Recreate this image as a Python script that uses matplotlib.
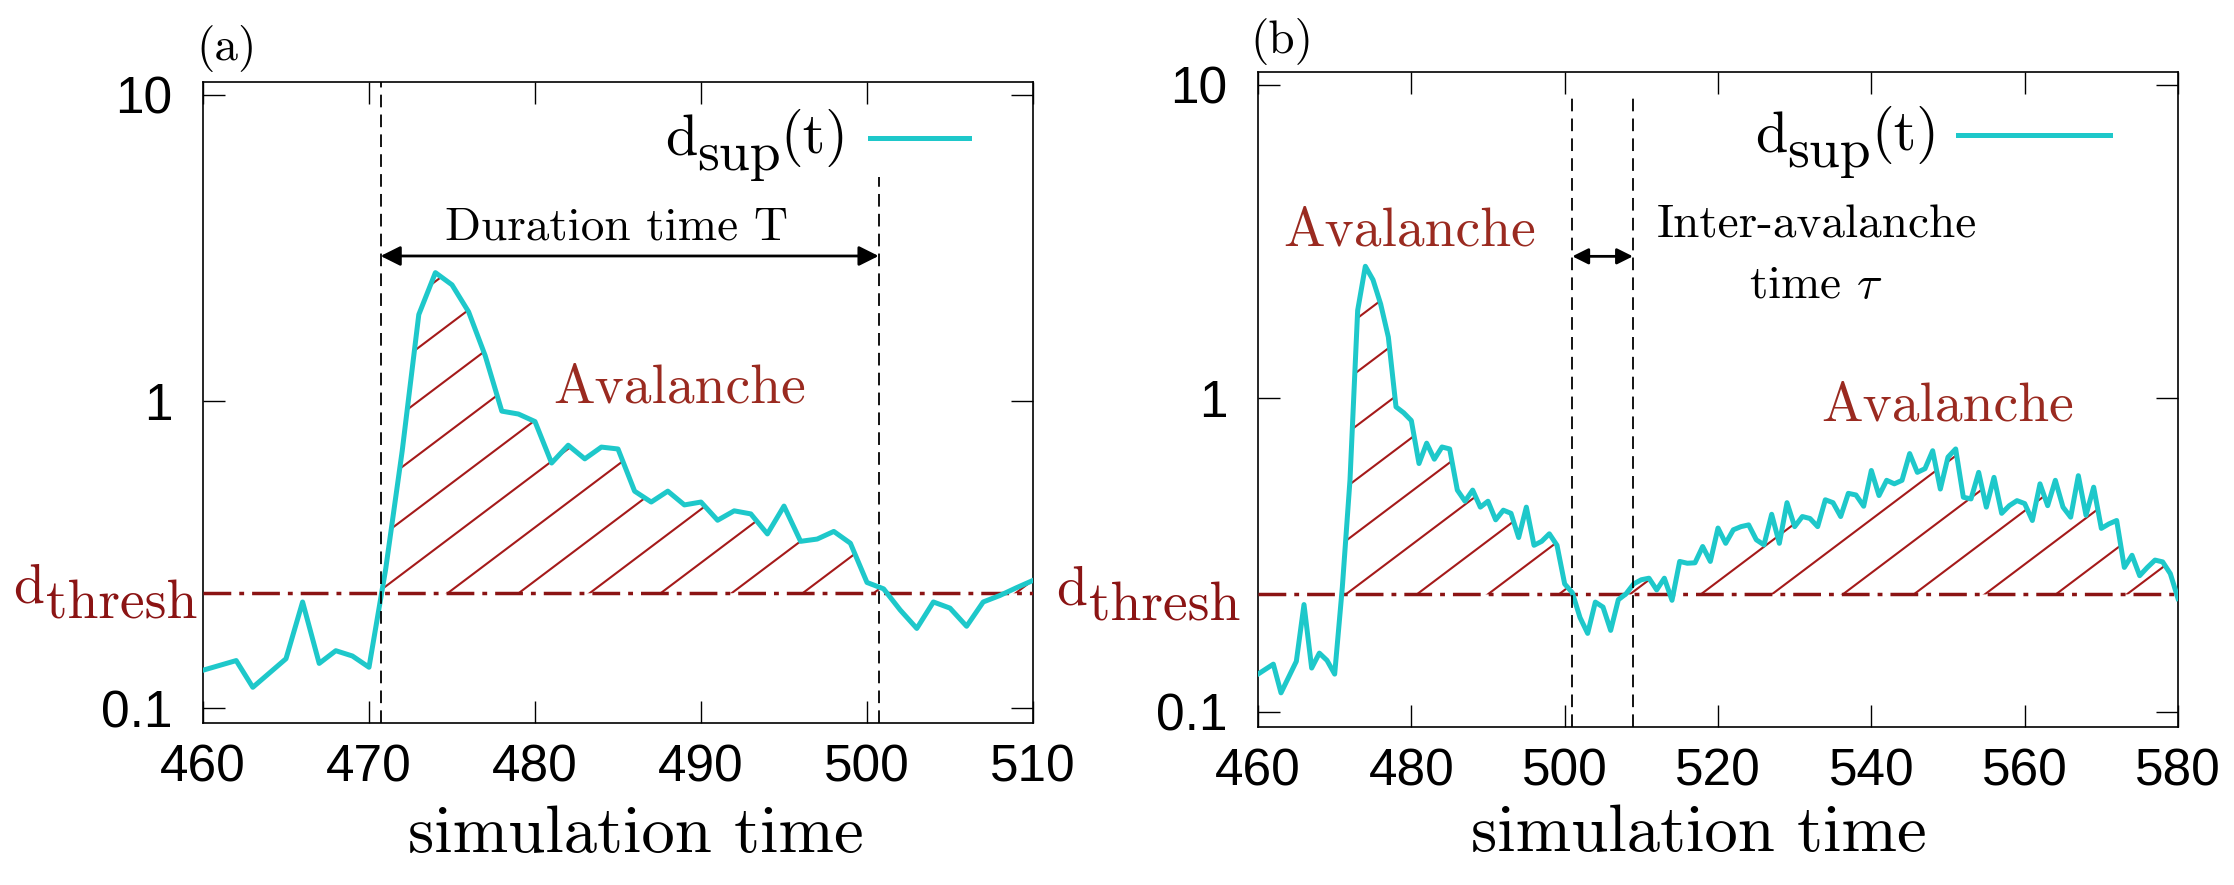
import numpy as np
import matplotlib
matplotlib.use('Agg')
import matplotlib.pyplot as plt
from matplotlib.path import Path
from matplotlib.patches import PathPatch
from matplotlib.collections import LineCollection
from matplotlib.ticker import NullLocator

plt.rcParams['font.family'] = ['Liberation Sans', 'DejaVu Sans']
plt.rcParams['mathtext.fontset'] = 'cm'

# panel (a): d_sup(t)
t_a = [460, 462, 463, 465, 466, 467, 468, 469, 470, 471, 472, 473, 474, 475, 476,
       477, 478, 479, 480, 481, 482, 483, 484, 485, 486, 487, 488, 489, 490, 491,
       492, 493, 494, 495, 496, 497, 498, 499, 500, 501, 502, 503, 504, 505, 506,
       507, 508, 509, 510]
d_a = [0.133, 0.143, 0.117, 0.145, 0.222, 0.140, 0.154, 0.148, 0.136, 0.283, 0.69,
       1.92, 2.63, 2.40, 1.96, 1.41, 0.93, 0.91, 0.86, 0.63, 0.72, 0.65, 0.71, 0.70,
       0.51, 0.47, 0.51, 0.46, 0.47, 0.41, 0.44, 0.43, 0.37, 0.456, 0.35, 0.356,
       0.377, 0.345, 0.257, 0.245, 0.209, 0.182, 0.222, 0.212, 0.185, 0.222, 0.233,
       0.247, 0.261]

# panel (b)
t_b = [460, 462, 463, 465, 466, 467, 468, 469, 470, 471, 472, 473, 474, 475, 476,
       477, 478, 479, 480, 481, 482, 483, 484, 485, 486, 487, 488, 489, 490, 491,
       492, 493, 494, 495, 496, 497, 498, 499, 500, 501, 502, 503, 504, 505, 506,
       507, 508, 509, 510, 511, 512, 513, 514, 515, 516, 517, 518, 519, 520, 521,
       522, 523, 524, 525, 526, 527, 528, 529, 530, 531, 532, 533, 534, 535, 536,
       537, 538, 539, 540, 541, 542, 543, 544, 545, 546, 547, 548, 549, 550, 551,
       552, 553, 554, 555, 556, 557, 558, 559, 560, 561, 562, 563, 564, 565, 566,
       567, 568, 569, 570, 571, 572, 573, 574, 575, 576, 577, 578, 579, 580]
d_b = [0.132, 0.142, 0.115, 0.145, 0.22, 0.138, 0.154, 0.146, 0.132, 0.25, 0.55,
       1.91, 2.64, 2.39, 2.0, 1.57, 0.94, 0.90, 0.85, 0.62, 0.72, 0.64, 0.70, 0.69,
       0.51, 0.47, 0.51, 0.45, 0.47, 0.41, 0.44, 0.43, 0.36, 0.45, 0.34, 0.35, 0.37,
       0.34, 0.256, 0.24, 0.20, 0.178, 0.224, 0.216, 0.182, 0.228, 0.238, 0.256,
       0.264, 0.267, 0.245, 0.267, 0.227, 0.302, 0.298, 0.299, 0.337, 0.302, 0.386,
       0.345, 0.381, 0.390, 0.395, 0.354, 0.341, 0.427, 0.345, 0.465, 0.39, 0.42,
       0.414, 0.39, 0.475, 0.465, 0.42, 0.498, 0.492, 0.453, 0.589, 0.49, 0.548,
       0.534, 0.548, 0.667, 0.581, 0.597, 0.681, 0.514, 0.65, 0.69, 0.484, 0.478,
       0.581, 0.45, 0.56, 0.43, 0.455, 0.472, 0.462, 0.408, 0.534, 0.455, 0.548,
       0.45, 0.418, 0.567, 0.424, 0.521, 0.385, 0.398, 0.408, 0.289, 0.316, 0.272,
       0.289, 0.305, 0.301, 0.276, 0.23]

d_thresh = 0.237

# start/end of the marked intervals
a_marks = [470.7, 500.7]
a_mark_tops = [11.0, 5.4]
b_marks = [501.0, 508.9]
b_mark_tops = [9.5, 9.5]
a_arrow_y = 2.98
b_arrow_y = 2.84

xticks_a = [460, 470, 480, 490, 500, 510]
xticks_b = [460, 480, 500, 520, 540, 560, 580]
yticks = [0.1, 1, 10]
ytick_labels = ['0.1', '1', '10']
ylim = (0.0895, 11.0)

cyan = '#1ec8ca'
red_line = '#8b1414'
red_text = '#9a2a20'
hatch_red = '#a51a1a'
cm = 'cmr10'

W, H = 2234, 885
fig = plt.figure(figsize=(W / 100, H / 100), dpi=100)


def add_axes_px(left, top, right, bottom):
    return fig.add_axes([left / W, 1 - bottom / H, (right - left) / W, (bottom - top) / H])


def style_axes(ax, xticks):
    ax.set_yscale('log')
    ax.set_xlim(xticks[0], xticks[-1])
    ax.set_ylim(*ylim)
    ax.set_xticks(xticks)
    ax.set_xticklabels([str(v) for v in xticks])
    ax.set_yticks(yticks)
    ax.set_yticklabels(ytick_labels)
    ax.yaxis.set_minor_locator(NullLocator())
    ax.tick_params(direction='in', top=True, right=True, length=16, width=1.0, labelsize=37)
    ax.tick_params(axis='x', pad=15)
    ax.tick_params(axis='y', pad=22)
    for sp in ax.spines.values():
        sp.set_linewidth(1.2)


def hatch_region(ax, t, d, spacing_px=71, angle_deg=37):
    t = np.array(t)
    d = np.array(d)
    coll = ax.fill_between(t, d, d_thresh, where=d > d_thresh, interpolate=True,
                           facecolor='none', edgecolor='none')
    path = Path.make_compound_path(*coll.get_paths())
    patch = PathPatch(path, transform=ax.transData, facecolor='none', edgecolor='none')
    ax.add_patch(patch)
    pos = ax.get_position()
    w_px = pos.width * W
    h_px = pos.height * H
    slope = np.tan(np.radians(angle_deg)) * w_px / h_px
    step = spacing_px / w_px
    segs = [[(x0, 0), (x0 + 1 / slope, 1)] for x0 in np.arange(-1 / slope, 1, step)]
    lc = LineCollection(segs, transform=ax.transAxes, colors=hatch_red, linewidths=1.5, zorder=2)
    ax.add_collection(lc)
    lc.set_clip_path(patch)


def thresh_label(ax, right_pt):
    t1 = ax.annotate('thresh', xy=(0, d_thresh), xycoords=('axes fraction', 'data'),
                     xytext=(right_pt, -18.5), textcoords='offset points',
                     ha='right', va='baseline', fontsize=40, family=cm, color=red_line,
                     annotation_clip=False)
    ax.annotate('d', xy=(0, 0), xycoords=t1, xytext=(-1, 11.5), textcoords='offset points',
                ha='right', va='bottom', fontsize=40, family=cm, color=red_line)


def key(ax, text_right, line_x0, line_x1, y):
    # legend entry: d_sup(t) followed by the line sample
    ax.plot([line_x0, line_x1], [y, y], transform=ax.transAxes, color=cyan, lw=3.6)
    t3 = ax.text(text_right, y, '(t)', transform=ax.transAxes, ha='right', va='center',
                 fontsize=42, family=cm)
    t2 = ax.annotate('sup', xy=(0, 0), xycoords=t3, xytext=(0, -10), textcoords='offset points',
                     ha='right', va='bottom', fontsize=40, family=cm)
    ax.annotate('d', xy=(0, 0), xycoords=t2, xytext=(0, 10), textcoords='offset points',
                ha='right', va='bottom', fontsize=42, family=cm)


# ---------- panel (a)
ax = add_axes_px(203, 82, 1033, 723)
style_axes(ax, xticks_a)
hatch_region(ax, t_a, d_a)
ax.axhline(d_thresh, color=red_line, lw=2.5, linestyle=(0, (8, 2.3, 1.4, 2.3)), zorder=3)
ax.plot(t_a, d_a, color=cyan, lw=3.6, zorder=4)
ax.vlines(a_marks, ylim[0], a_mark_tops, colors='black', lw=1.3, linestyles=(0, (7, 4)), zorder=5)
ax.annotate('', xy=(a_marks[1], a_arrow_y), xytext=(a_marks[0], a_arrow_y),
            arrowprops=dict(arrowstyle='<|-|>', color='black', lw=2, mutation_scale=30,
                            shrinkA=0, shrinkB=0))
ax.text(484.9, 3.36, 'Duration time T', ha='center', va='baseline', fontsize=34, family=cm)
ax.text(488.7, 1.1, 'Avalanche', ha='center', va='center', fontsize=40, family=cm, color=red_text)
ax.text(-0.008, 1.015, '(a)', transform=ax.transAxes, ha='left', va='bottom', fontsize=34, family=cm)
thresh_label(ax, -4.3)
key(ax, 0.778, 0.804, 0.923, 0.913)
ax.set_xlabel('simulation time', fontsize=48, family=cm, va='baseline')
ax.xaxis.set_label_coords(0.522, -0.201)

# ---------- panel (b)
ax = add_axes_px(1258, 72, 2178, 727)
style_axes(ax, xticks_b)
hatch_region(ax, t_b, d_b)
ax.axhline(d_thresh, color=red_line, lw=2.5, linestyle=(0, (8, 2.3, 1.4, 2.3)), zorder=3)
ax.plot(t_b, d_b, color=cyan, lw=3.6, zorder=4)
ax.vlines(b_marks, ylim[0], b_mark_tops, colors='black', lw=1.3, linestyles=(0, (7, 4)), zorder=5)
ax.annotate('', xy=(b_marks[1], b_arrow_y), xytext=(b_marks[0], b_arrow_y),
            arrowprops=dict(arrowstyle='<|-|>', color='black', lw=2, mutation_scale=24,
                            shrinkA=0, shrinkB=0))
ax.text(532.9, 3.57, 'Inter-avalanche', ha='center', va='center', fontsize=34, family=cm)
ax.text(532.7, 2.28, r'time $\tau$', ha='center', va='center', fontsize=34, family=cm)
ax.text(479.8, 3.40, 'Avalanche', ha='center', va='center', fontsize=40, family=cm, color=red_text)
ax.text(550.0, 0.94, 'Avalanche', ha='center', va='center', fontsize=40, family=cm, color=red_text)
ax.text(-0.008, 1.010, '(b)', transform=ax.transAxes, ha='left', va='bottom', fontsize=34, family=cm)
thresh_label(ax, -13)
key(ax, 0.740, 0.761, 0.926, 0.904)
ax.set_xlabel('simulation time', fontsize=48, family=cm, va='baseline')
ax.xaxis.set_label_coords(0.479, -0.190)

fig.savefig('out.png', dpi=100)
